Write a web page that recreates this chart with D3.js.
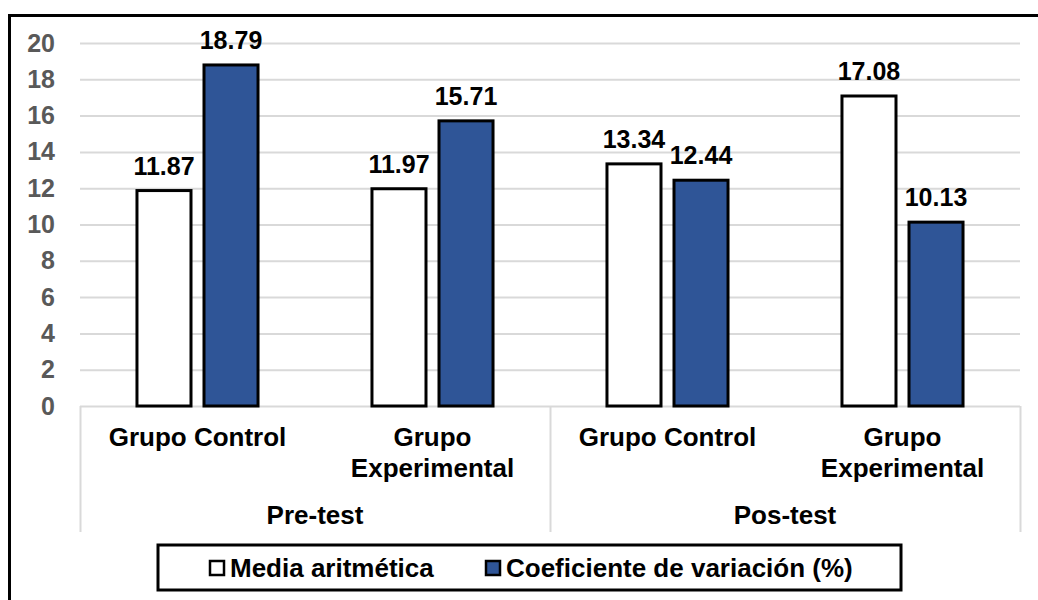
<!DOCTYPE html>
<html>
<head>
<meta charset="utf-8">
<script src="https://cdn.jsdelivr.net/npm/d3@7"></script>
<style>
  body { margin: 0; background: #fff; }
  text { font-family: "Liberation Sans", Arial, sans-serif; font-weight: bold; }
</style>
</head>
<body>
<script>
// Data
var phases = ["Pre-test", "Pos-test"];
var groups = ["Grupo Control", "Grupo Experimental", "Grupo Control", "Grupo Experimental"];
var groupLines = [["Grupo Control"], ["Grupo", "Experimental"], ["Grupo Control"], ["Grupo", "Experimental"]];
var seriesNames = ["Media aritmética", "Coeficiente de variación (%)"];
var media = [11.87, 11.97, 13.34, 17.08];
var coeficiente = [18.79, 15.71, 12.44, 10.13];
var yTicks = [0, 2, 4, 6, 8, 10, 12, 14, 16, 18, 20];
var seriesColors = ["#ffffff", "#2f5597"];

// SVG area
var svgWidth = 1038;
var svgHeight = 600;

var margin = { top: 43, right: 18, bottom: 194, left: 80 };
var chartWidth = svgWidth - margin.left - margin.right;
var chartHeight = svgHeight - margin.top - margin.bottom;

var svg = d3.select("body")
  .append("svg")
  .attr("width", svgWidth)
  .attr("height", svgHeight);

// outer frame (right and bottom sides run off the picture)
svg.append("rect")
  .attr("x", 9.5)
  .attr("y", 15.5)
  .attr("width", svgWidth + 20)
  .attr("height", svgHeight + 20)
  .attr("fill", "none")
  .attr("stroke", "#000")
  .attr("stroke-width", 3);

var chartGroup = svg.append("g")
  .attr("transform", `translate(${margin.left}, ${margin.top})`);

// scales
var x0 = d3.scaleBand()
  .domain(d3.range(groups.length))
  .range([0, chartWidth]);

var x1 = d3.scaleBand()
  .domain(d3.range(seriesNames.length))
  .range([0, x0.bandwidth()])
  .paddingInner(0.194)
  .paddingOuter(0.85);

var yLinearScale = d3.scaleLinear()
  .domain([0, 20])
  .range([chartHeight, 0]);

// gridlines
chartGroup.append("g")
  .selectAll("line")
  .data(yTicks)
  .enter()
  .append("line")
  .attr("x1", 0)
  .attr("x2", chartWidth)
  .attr("y1", d => yLinearScale(d) + 0.5)
  .attr("y2", d => yLinearScale(d) + 0.5)
  .attr("stroke", "#d9d9d9")
  .attr("stroke-width", 2);

// left axis labels
var leftAxis = d3.axisLeft(yLinearScale).tickValues(yTicks).tickSize(0).tickPadding(25);
var yAxisG = chartGroup.append("g").call(leftAxis);
yAxisG.select(".domain").remove();
yAxisG.selectAll("text")
  .attr("fill", "#595959")
  .style("font-size", "25px")
  .style("font-family", "'Liberation Sans', Arial, sans-serif")
  .style("font-weight", "bold");

// category axis: separators
var sepX = [0, x0(2), chartWidth];
chartGroup.append("g")
  .selectAll("line")
  .data(sepX)
  .enter()
  .append("line")
  .attr("x1", d => d + 0.5)
  .attr("x2", d => d + 0.5)
  .attr("y1", chartHeight)
  .attr("y2", chartHeight + 126)
  .attr("stroke", "#d9d9d9")
  .attr("stroke-width", 2);

// bars
var seriesValues = [media, coeficiente];
seriesValues.forEach(function(values, s) {
  chartGroup.append("g")
    .selectAll("rect")
    .data(values)
    .enter()
    .append("rect")
    .attr("x", (d, i) => x0(i) + x1(s))
    .attr("y", d => yLinearScale(d))
    .attr("width", x1.bandwidth())
    .attr("height", d => chartHeight - yLinearScale(d))
    .attr("fill", seriesColors[s])
    .attr("stroke", "#000")
    .attr("stroke-width", 3);

  chartGroup.append("g")
    .selectAll("text")
    .data(values)
    .enter()
    .append("text")
    .attr("x", (d, i) => x0(i) + x1(s) + x1.bandwidth() / 2)
    .attr("y", d => yLinearScale(d) - 16)
    .attr("text-anchor", "middle")
    .style("font-size", "25px")
    .attr("fill", "#000")
    .text(d => d.toFixed(2));
});

// group labels
groupLines.forEach(function(lines, i) {
  var t = chartGroup.append("text")
    .attr("x", x0(i) + x0.bandwidth() / 2)
    .attr("y", chartHeight + 40)
    .attr("text-anchor", "middle")
    .style("font-size", "26px")
    .attr("fill", "#000");
  lines.forEach(function(line, k) {
    t.append("tspan")
      .attr("x", x0(i) + x0.bandwidth() / 2)
      .attr("dy", k === 0 ? 0 : 31)
      .text(line);
  });
});

// phase labels
phases.forEach(function(p, j) {
  chartGroup.append("text")
    .attr("x", (x0(j * 2) + x0(j * 2 + 1) + x0.bandwidth()) / 2)
    .attr("y", chartHeight + 118)
    .attr("text-anchor", "middle")
    .style("font-size", "26px")
    .attr("fill", "#000")
    .text(p);
});

// legend
var legend = svg.append("g");
legend.append("rect")
  .attr("x", 158)
  .attr("y", 545)
  .attr("width", 743)
  .attr("height", 45)
  .attr("fill", "#fff")
  .attr("stroke", "#000")
  .attr("stroke-width", 3);

var legendX = [209, 485];
seriesNames.forEach(function(name, s) {
  legend.append("rect")
    .attr("x", legendX[s] + 1)
    .attr("y", 561)
    .attr("width", 14)
    .attr("height", 14)
    .attr("fill", seriesColors[s])
    .attr("stroke", "#000")
    .attr("stroke-width", 2.5);
  legend.append("text")
    .attr("x", legendX[s] + 21)
    .attr("y", 577)
    .style("font-size", "26px")
    .attr("fill", "#000")
    .text(name);
});
</script>
</body>
</html>
